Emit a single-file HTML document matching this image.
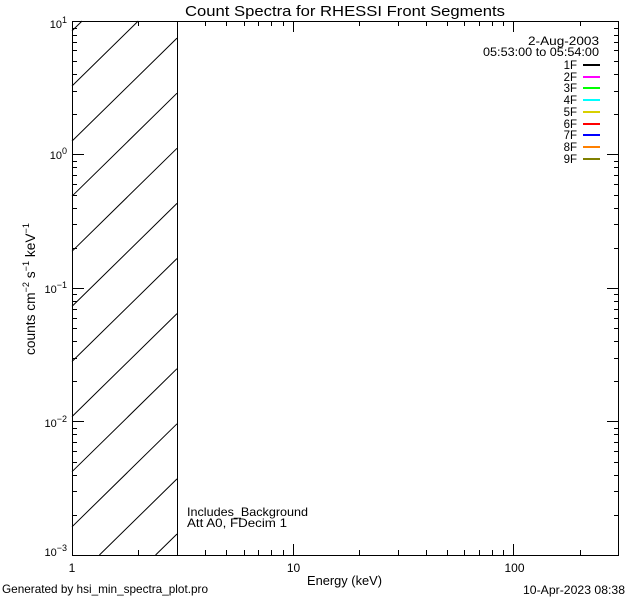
<!DOCTYPE html>
<html><head><meta charset="utf-8"><style>
html,body{margin:0;padding:0;background:#fff;width:640px;height:600px;overflow:hidden;}
svg{display:block;position:absolute;left:0;top:0;}
text{font-family:"Liberation Sans",sans-serif;fill:#000;}
</style></head><body>
<svg width="640" height="600" viewBox="0 0 640 600" xmlns="http://www.w3.org/2000/svg" overflow="hidden">
<rect width="640" height="600" fill="#fff"/>
<!-- hatch (pre-clipped) -->
<g stroke="#000" stroke-width="1" fill="none">
<path d="M72 30.9L82.09 21 M72 86L138.26 21 M72 141.1L177 38.1 M72 196.2L177 93.2 M72 251.3L177 148.3 M72 306.4L177 203.4 M72 361.5L177 258.5 M72 416.6L177 313.6 M72 471.7L177 368.7 M72 526.8L177 423.8 M99.42 555L177 478.9 M155.59 555L177 534"/>
</g>
<g stroke="#000" stroke-width="1" fill="none" shape-rendering="crispEdges">
<!-- box -->
<rect x="72.5" y="21.5" width="546" height="534"/>
<!-- 3 keV line -->
<path d="M177.5 21V555"/>
<!-- bottom ticks -->
<path d="M72.5 555v-11 M293.5 555v-11 M513.5 555v-11
M138.5 555v-5 M177.5 555v-5 M205.5 555v-5 M226.5 555v-5 M244.5 555v-5 M258.5 555v-5 M271.5 555v-5 M283.5 555v-5
M359.5 555v-5 M398.5 555v-5 M426.5 555v-5 M447.5 555v-5 M464.5 555v-5 M479.5 555v-5 M492.5 555v-5 M503.5 555v-5 M580.5 555v-5"/>
<!-- top ticks -->
<path d="M72.5 21v11 M293.5 21v11 M513.5 21v11
M138.5 21v5 M177.5 21v5 M205.5 21v5 M226.5 21v5 M244.5 21v5 M258.5 21v5 M271.5 21v5 M283.5 21v5
M359.5 21v5 M398.5 21v5 M426.5 21v5 M447.5 21v5 M464.5 21v5 M479.5 21v5 M492.5 21v5 M503.5 21v5 M580.5 21v5"/>
<!-- left ticks -->
<path d="M72 21.5h12 M72 154.5h12 M72 288.5h12 M72 421.5h12 M72 555.5h12
M72 114.5h5 M72 91.5h5 M72 74.5h5 M72 61.5h5 M72 50.5h5 M72 42.5h5 M72 35.5h5 M72 28.5h5
M72 248.5h5 M72 224.5h5 M72 208.5h5 M72 195.5h5 M72 184.5h5 M72 175.5h5 M72 167.5h5 M72 161.5h5
M72 381.5h5 M72 358.5h5 M72 341.5h5 M72 328.5h5 M72 318.5h5 M72 309.5h5 M72 301.5h5 M72 294.5h5
M72 515.5h5 M72 491.5h5 M72 475.5h5 M72 462.5h5 M72 451.5h5 M72 442.5h5 M72 434.5h5 M72 428.5h5"/>
<!-- right ticks -->
<path d="M619 21.5h-12 M619 154.5h-12 M619 288.5h-12 M619 421.5h-12 M619 555.5h-12
M619 114.5h-5 M619 91.5h-5 M619 74.5h-5 M619 61.5h-5 M619 50.5h-5 M619 42.5h-5 M619 35.5h-5 M619 28.5h-5
M619 248.5h-5 M619 224.5h-5 M619 208.5h-5 M619 195.5h-5 M619 184.5h-5 M619 175.5h-5 M619 167.5h-5 M619 161.5h-5
M619 381.5h-5 M619 358.5h-5 M619 341.5h-5 M619 328.5h-5 M619 318.5h-5 M619 309.5h-5 M619 301.5h-5 M619 294.5h-5
M619 515.5h-5 M619 491.5h-5 M619 475.5h-5 M619 462.5h-5 M619 451.5h-5 M619 442.5h-5 M619 434.5h-5 M619 428.5h-5"/>
</g>
<!-- title -->
<text x="185" y="16" font-size="15" textLength="320" lengthAdjust="spacingAndGlyphs">Count Spectra for RHESSI Front Segments</text>
<!-- y tick labels -->
<text x="67" y="28" font-size="11" text-anchor="end">10<tspan dy="-5" font-size="9">1</tspan></text>
<text x="67" y="159" font-size="11" text-anchor="end">10<tspan dy="-5" font-size="9">0</tspan></text>
<text x="67" y="293" font-size="11" text-anchor="end">10<tspan dy="-5" font-size="9">−1</tspan></text>
<text x="67" y="427" font-size="11" text-anchor="end">10<tspan dy="-5" font-size="9">−2</tspan></text>
<text x="67" y="556" font-size="11" text-anchor="end">10<tspan dy="-5" font-size="9">−3</tspan></text>
<!-- x tick labels -->
<text x="72" y="572" font-size="12" text-anchor="middle">1</text>
<text x="293.5" y="572" font-size="12" text-anchor="middle">10</text>
<text x="514.5" y="572" font-size="12" text-anchor="middle">100</text>
<!-- axis titles -->
<text x="307" y="585" font-size="12.5" textLength="75" lengthAdjust="spacingAndGlyphs">Energy (keV)</text>
<text transform="translate(35,289) rotate(-90)" x="0" y="0" font-size="13.5" text-anchor="middle" textLength="132" lengthAdjust="spacingAndGlyphs">counts cm<tspan dy="-6" font-size="9">−2</tspan><tspan dy="6"> s</tspan><tspan dy="-6" font-size="9">−1</tspan><tspan dy="6"> keV</tspan><tspan dy="-6" font-size="9">−1</tspan></text>
<!-- annotations -->
<text x="187" y="516" font-size="12" textLength="121" lengthAdjust="spacingAndGlyphs">Includes_Background</text>
<text x="187" y="527" font-size="12" textLength="100" lengthAdjust="spacingAndGlyphs">Att A0, FDecim 1</text>
<text x="2" y="593" font-size="12" textLength="206" lengthAdjust="spacingAndGlyphs">Generated by hsi_min_spectra_plot.pro</text>
<text x="523" y="594" font-size="12" textLength="102" lengthAdjust="spacingAndGlyphs">10-Apr-2023 08:38</text>
<!-- legend -->
<text x="599" y="45" font-size="12" text-anchor="end" textLength="71" lengthAdjust="spacingAndGlyphs">2-Aug-2003</text>
<text x="599" y="56" font-size="12" text-anchor="end" textLength="116" lengthAdjust="spacingAndGlyphs">05:53:00 to 05:54:00</text>
<g font-size="11.5" text-anchor="end">
<text x="577" y="69">1F</text>
<text x="577" y="81">2F</text>
<text x="577" y="92">3F</text>
<text x="577" y="104">4F</text>
<text x="577" y="116">5F</text>
<text x="577" y="128">6F</text>
<text x="577" y="139">7F</text>
<text x="577" y="151">8F</text>
<text x="577" y="163">9F</text>
</g>
<g shape-rendering="crispEdges">
<rect x="583" y="64" width="17" height="2" fill="#000000"/>
<rect x="583" y="76" width="17" height="2" fill="#ff00ff"/>
<rect x="583" y="87" width="17" height="2" fill="#00ff00"/>
<rect x="583" y="99" width="17" height="2" fill="#00ffff"/>
<rect x="583" y="111" width="17" height="2" fill="#d8d000"/>
<rect x="583" y="123" width="17" height="2" fill="#ff0000"/>
<rect x="583" y="134" width="17" height="2" fill="#0000ff"/>
<rect x="583" y="146" width="17" height="2" fill="#ff8000"/>
<rect x="583" y="158" width="17" height="2" fill="#808000"/>
</g>
</svg>
</body></html>
